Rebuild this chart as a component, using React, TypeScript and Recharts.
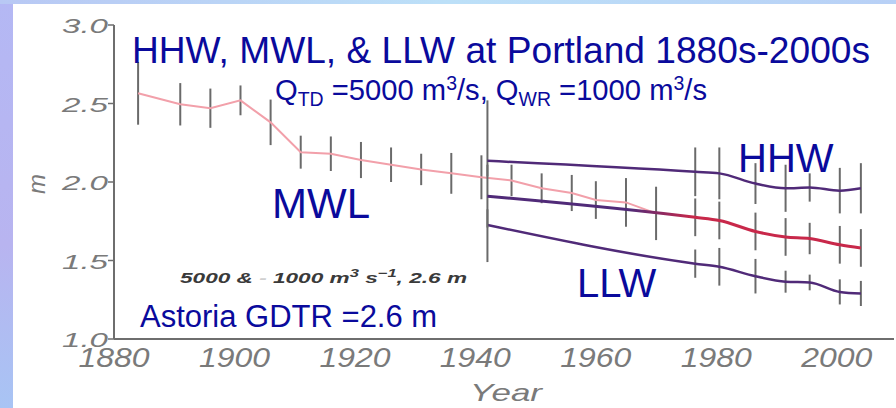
import { LineChart, Line, XAxis, YAxis, ErrorBar } from 'recharts';

// observed MWL, 1880s-1970
const earlyYears = [1884, 1891, 1896, 1901, 1906, 1911, 1916, 1921, 1926, 1931, 1936, 1941, 1946, 1951, 1956, 1960, 1965, 1970];
const earlyMwl = [2.565, 2.495, 2.47, 2.52, 2.38, 2.19, 2.18, 2.14, 2.11, 2.08, 2.055, 2.03, 2.01, 1.96, 1.93, 1.885, 1.87, 1.8];
const earlyErr = [0.2, 0.135, 0.125, 0.095, 0.145, 0.105, 0.11, 0.115, 0.11, 0.1, 0.13, 0.14, 0.1, 0.095, 0.115, 0.12, 0.155, 0.17];

// model HHW / MWL / LLW, 1942-2004
const modernYears = [1942, 1976.5, 1980.5, 1986.5, 1991.5, 1995.5, 2000.5, 2004];
const hhw = [2.135, 2.065, 2.055, 1.99, 1.96, 1.965, 1.945, 1.96];
const mwl = [1.91, 1.775, 1.755, 1.685, 1.65, 1.64, 1.6, 1.58];
const llw = [1.726, 1.48, 1.46, 1.4, 1.365, 1.36, 1.3, 1.29];
const hhwErr: (number | number[])[] = [[0.1, 0.385], 0.155, 0.165, 0.13, 0.15, 0.09, 0.145, 0.16];
const mwlErr: (number | number[])[] = [0.2, 0.12, 0.12, 0.12, 0.12, 0.1, 0.12, 0.12];
const llwErr: (number | number[])[] = [[0.236, 0.1], 0.09, 0.12, 0.11, 0.07, 0.05, 0.08, 0.08];

const xTicks = [1880, 1900, 1920, 1940, 1960, 1980, 2000];
const xMinor = [1885, 1890, 1895, 1900, 1905, 1910, 1915, 1920, 1925, 1930, 1935, 1940, 1945, 1950, 1955, 1960, 1965, 1970, 1975, 1980, 1985, 1990, 1995, 2000, 2005];
const yTicks = [1, 1.5, 2, 2.5, 3];

const earlyData = earlyYears.map((year, i) => ({ year, v: earlyMwl[i], err: earlyErr[i] }));
const hhwData = modernYears.map((year, i) => ({ year, v: hhw[i], err: hhwErr[i] }));
const mwlData = modernYears.map((year, i) => ({ year, v: mwl[i], err: mwlErr[i] }));
const llwData = modernYears.map((year, i) => ({ year, v: llw[i], err: llwErr[i] }));

const AXIS = '#6e6e6e';
const LABEL = '#7a7a7a';
const BLUE = '#0a0a9c';
const PURPLE = '#502a78';
const BAR = '#6a6a6a';
const FONT = '"Liberation Sans", Arial, sans-serif';

const XTick = ({ x, y, payload }: any) => (
  <text x={x} y={y + 28} textAnchor="middle" fill={LABEL} fontFamily={FONT} fontStyle="italic"
    fontSize={27} textLength={71} lengthAdjust="spacingAndGlyphs">
    {payload.value}
  </text>
);

const YTick = ({ x, y, payload }: any) => (
  <g>
    <line x1={x - 6} x2={x} y1={y} y2={y} stroke={AXIS} strokeWidth={1.5} />
    <text x={x - 6} y={y + 8} textAnchor="end" fill={LABEL} fontFamily={FONT} fontStyle="italic"
      fontSize={21} textLength={46} lengthAdjust="spacingAndGlyphs">
      {Number(payload.value).toFixed(1)}
    </text>
  </g>
);

const errProps = { dataKey: 'err', width: 0, stroke: BAR, strokeWidth: 2, direction: 'y' as const, isAnimationActive: false };

export default function App() {
  return (
    <div style={{ position: 'absolute', left: 0, top: 0, width: 896, height: 408, background: '#fff', overflow: 'hidden' }}>
      {/* slide frame */}
      <div style={{ position: 'absolute', left: 0, top: 0, width: 13, height: 408, background: 'linear-gradient(#b4b8f4, #b8b4f0 60%, #a8c4f4)' }} />
      <div style={{ position: 'absolute', left: 0, top: 0, width: 896, height: 4, background: 'linear-gradient(90deg, #b8c8f4, #bce0f8 50%, #b8d0f6)' }} />

      <LineChart width={896} height={408} margin={{ top: 25, right: 2, bottom: 39, left: 0 }} style={{ position: 'absolute', left: 0, top: 0 }}>
        <defs>
          <linearGradient id="mwlGrad" x1="0" y1="0" x2="1" y2="0">
            <stop offset="0%" stopColor={PURPLE} />
            <stop offset="38%" stopColor={PURPLE} />
            <stop offset="55%" stopColor="#c8284a" />
            <stop offset="100%" stopColor="#c8284a" />
          </linearGradient>
        </defs>
        <XAxis dataKey="year" type="number" domain={[1880, 2009.5]} ticks={xTicks} allowDataOverflow
          height={30} axisLine={{ stroke: AXIS, strokeWidth: 2 }} tickLine={false} tickSize={0} tickMargin={0}
          tick={<XTick />} interval={0} />
        <XAxis xAxisId="t" dataKey="year" type="number" orientation="top" domain={[1880, 2009.5]} ticks={xMinor}
          height={0} mirror tickSize={4} axisLine={{ stroke: AXIS, strokeWidth: 2 }} tickLine={{ stroke: AXIS }}
          tick={() => <g />} interval={0} />
        <YAxis type="number" domain={[1, 3]} ticks={yTicks} width={114} interval={0}
          axisLine={{ stroke: AXIS, strokeWidth: 2 }} tickLine={false} tickSize={0} tickMargin={0} tick={<YTick />} />
        <YAxis yAxisId="r" orientation="right" type="number" domain={[1, 3]} ticks={yTicks} width={0} mirror
          tickSize={4} axisLine={{ stroke: AXIS, strokeWidth: 2 }} tickLine={{ stroke: AXIS }} tick={() => <g />} interval={0} />

        <Line data={earlyData} dataKey="v" type="linear" stroke="#f2a0aa" strokeWidth={2} dot={false} isAnimationActive={false}>
          <ErrorBar {...errProps} />
        </Line>
        <Line data={hhwData} dataKey="v" type="monotone" stroke={PURPLE} strokeWidth={2.5} dot={false} isAnimationActive={false}>
          <ErrorBar {...errProps} />
        </Line>
        <Line data={llwData} dataKey="v" type="monotone" stroke={PURPLE} strokeWidth={2.5} dot={false} isAnimationActive={false}>
          <ErrorBar {...errProps} />
        </Line>
        <Line data={mwlData} dataKey="v" type="monotone" stroke="url(#mwlGrad)" strokeWidth={3} dot={false} isAnimationActive={false}>
          <ErrorBar {...errProps} />
        </Line>
      </LineChart>

      <svg width={896} height={408} style={{ position: 'absolute', left: 0, top: 0, pointerEvents: 'none' }} fontFamily={FONT}>
        <text x={132} y={63} fontSize={37} fill={BLUE} textLength={738} lengthAdjust="spacingAndGlyphs">
          HHW, MWL, &amp; LLW at Portland 1880s-2000s
        </text>
        <text x={275} y={100} fontSize={30} fill={BLUE} textLength={432} lengthAdjust="spacingAndGlyphs">
          Q<tspan fontSize={20} dy={6}>TD</tspan>
          <tspan dy={-6}> =5000 m</tspan>
          <tspan fontSize={20} dy={-10}>3</tspan>
          <tspan dy={10}>/s, Q</tspan>
          <tspan fontSize={20} dy={6}>WR</tspan>
          <tspan dy={-6}> =1000 m</tspan>
          <tspan fontSize={20} dy={-10}>3</tspan>
          <tspan dy={10}>/s</tspan>
        </text>
        <text x={272} y={218} fontSize={42} fill={BLUE}>MWL</text>
        <text x={738} y={172} fontSize={40} fill={BLUE}>HHW</text>
        <text x={577} y={297} fontSize={40} fill={BLUE}>LLW</text>
        <text x={140} y={327} fontSize={31} fill={BLUE}>Astoria GDTR =2.6 m</text>
        <text x={180} y={283} fontSize={15} fontStyle="italic" fontWeight="bold" fill="#3a3a3a" textLength={287} lengthAdjust="spacingAndGlyphs">
          5000 &amp; <tspan fill="#d0d0d0">-</tspan> 1000 m<tspan fontSize={11} dy={-6}>3</tspan>
          <tspan dy={6}> s</tspan><tspan fontSize={11} dy={-6}>−1</tspan><tspan dy={6}>, 2.6 m</tspan>
        </text>
        <text x={506} y={401} textAnchor="middle" fontSize={24} fontStyle="italic" fill={LABEL} textLength={72} lengthAdjust="spacingAndGlyphs">
          Year
        </text>
        <text x={0} y={0} transform="translate(45 184) rotate(-90)" textAnchor="middle" fontSize={24} fontStyle="italic" fill={LABEL}>
          m
        </text>
      </svg>
    </div>
  );
}
